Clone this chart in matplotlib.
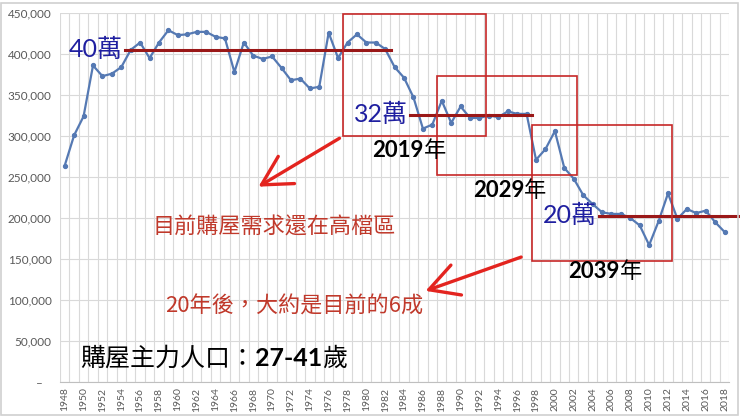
import matplotlib
matplotlib.use('Agg')
import matplotlib.pyplot as plt
from matplotlib.ticker import FuncFormatter, MultipleLocator
from matplotlib.patches import Rectangle

# births per year
years = list(range(1948, 2019))
births = [
    264000, 301000, 324000, 386000, 373000, 376000, 384000, 405000, 414000, 395000,   # 1948-57
    414000, 429000, 423000, 424000, 427000, 427000, 421000, 419000, 378000, 414000,   # 1958-67
    398000, 394000, 397000, 383000, 368000, 370000, 358000, 360000, 426000, 395000,   # 1968-77
    414000, 424000, 414000, 414000, 406000, 384000, 371000, 347000, 309000, 314000,   # 1978-87
    343000, 316000, 336000, 322000, 322000, 325000, 323000, 330000, 327000, 327000,   # 1988-97
    271000, 284000, 306000, 261000, 248000, 228000, 217000, 207000, 205000, 205000,   # 1998-07
    200000, 191000, 167000, 196000, 230000, 199000, 211000, 206000, 209000, 195000,   # 2008-17
    183000,                                                                            # 2018
]

# reference levels: (label, x from, x to, value)
levels = [
    ('40萬', 1954.4, 1982.6, 405000),
    ('32萬', 1984.6, 1997.6, 326000),
    ('20萬', 2004.7, 2019.4, 203000),
]
# 20-year windows: (x0, x1, y0, y1, year label)
windows = [
    (1977.5, 1992.7, 300500, 448500, '2019'),
    (1987.5, 2002.3, 252500, 373000, '2029'),
    (1997.6, 2012.4, 147000, 313500, '2039'),
]

CJK = ['Noto Sans CJK TC', 'DejaVu Sans']
NUM = ['Lato', 'Noto Sans CJK TC', 'DejaVu Sans']

fig = plt.figure(figsize=(7.4, 4.17), dpi=100)
ax = fig.add_axes([0.0811, 0.0839, 0.9044, 0.8849])

ax.plot(years, births, color='#5579b3', lw=1.6, marker='o', ms=2.8, zorder=3)

ax.set_xlim(1947.5, 2018.5)
ax.set_ylim(0, 450000)
ax.yaxis.set_major_locator(MultipleLocator(50000))
ax.yaxis.set_major_formatter(FuncFormatter(lambda v, p: '–   ' if v == 0 else f'{int(v):,}'))
ax.set_xticks(years[::2])
ax.set_xticklabels([str(y) for y in years[::2]], rotation=90)
ax.set_xticks([y - 0.5 for y in years] + [2018.5], minor=True)
ax.tick_params(axis='both', which='both', length=0, colors='#595959')
ax.tick_params(axis='y', labelsize=8.5, pad=6)
ax.tick_params(axis='x', labelsize=7.5, pad=4)
for lab in ax.get_xticklabels() + ax.get_yticklabels():
    lab.set_family('Lato')
ax.grid(True, axis='y', which='major', color='#d9d9d9', lw=0.8)
ax.grid(True, axis='x', which='minor', color='#d9d9d9', lw=0.8)
for s in ['top', 'right', 'left']:
    ax.spines[s].set_visible(False)
ax.spines['bottom'].set_color('#bfbfbf')

def pieces(x, y, parts, **kw):
    t = ax.text(x, y, parts[0][0], va='baseline', ha='left', **parts[0][1], **kw)
    for s, props in parts[1:]:
        t = ax.annotate(s, xy=(1, y), xycoords=(t, 'data'), va='baseline', ha='left', **props, **kw)
    return t

# level lines + labels
for lab, x0, x1, v in levels:
    ax.plot([x0, x1], [v, v], color='#9a1818', lw=2.2, zorder=4, clip_on=False)
    ax.text(x0 - 0.2, v, lab, color='#1f1fa0', fontsize=18, family=NUM,
            ha='right', va='center', zorder=5)

# windows + year labels
label_pos = {'2019': (1980.6, 274000), '2029': (1991.3, 226000), '2039': (2001.4, 127000)}
for x0, x1, y0, y1, yl in windows:
    ax.add_patch(Rectangle((x0, y0), x1 - x0, y1 - y0, fill=False,
                           edgecolor='#c62828', lw=1.2, zorder=4))
    lx, ly = label_pos[yl]
    pieces(lx, ly, [(yl, dict(fontweight='bold', family=NUM)),
                    ('年', dict(family=CJK))], fontsize=16, color='black', zorder=5)

# arrows
arrow_kw = dict(arrowstyle='->,head_length=1.1,head_width=0.6', color='#e3241f',
                lw=2.4, mutation_scale=19)
ax.annotate('', xy=(1968.3, 236500), xytext=(1977.4, 299000), arrowprops=arrow_kw)
ax.annotate('', xy=(1986.0, 110000), xytext=(1996.7, 153500), arrowprops=arrow_kw)

ax.text(1957.3, 188000, '目前購屋需求還在高檔區', color='#c0392b', fontsize=15.9,
        family=CJK, va='center', ha='left')
ax.text(1958.6, 91500, '20年後，大約是目前的6成', color='#c0392b', fontsize=15.9,
        family=CJK, va='center', ha='left')

pieces(1949.6, 20000, [('購屋主力人口：', dict(family=CJK)),
                       ('27-41', dict(fontweight='bold', family=NUM)),
                       ('歲', dict(family=CJK))], fontsize=18, color='black')

fig.patches.append(Rectangle((0.002, 0.004), 0.995, 0.99, transform=fig.transFigure,
                             fill=False, edgecolor='#d0d0d0', lw=1.2))

fig.savefig('out.png', dpi=100)
